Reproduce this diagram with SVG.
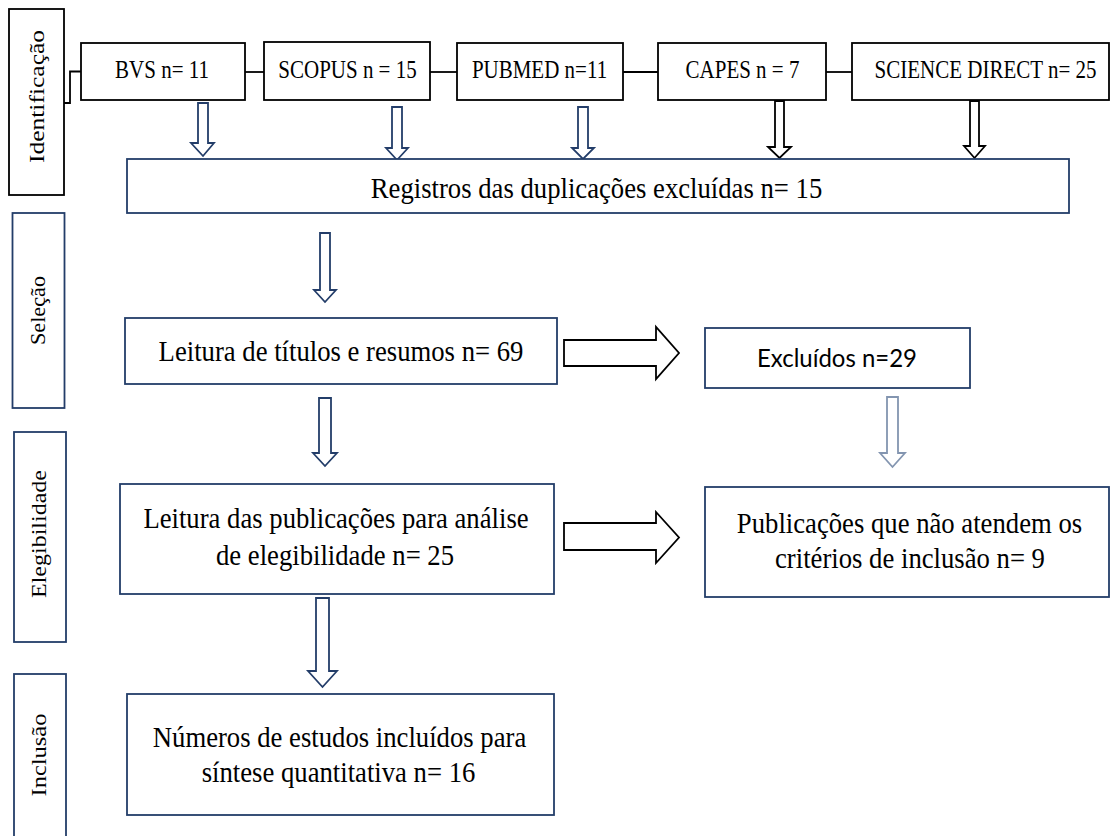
<svg xmlns="http://www.w3.org/2000/svg" width="1111" height="836" viewBox="0 0 1111 836">
<style>
  .bg{fill:#fff}
  .bk{fill:#fff;stroke:#000;stroke-width:1.8}
  .nv{fill:#fff;stroke:#233d69;stroke-width:1.8}
  .ln{fill:none;stroke:#000;stroke-width:1.8}
  .an{fill:#fff;stroke:#233d69;stroke-width:1.8;stroke-linejoin:miter}
  .ab{fill:#fff;stroke:#000;stroke-width:1.8;stroke-linejoin:miter}
  .ag{fill:#fff;stroke:#8395b0;stroke-width:1.8;stroke-linejoin:miter}
  .t{font-family:"Liberation Serif","Times New Roman",serif;fill:#000;text-anchor:middle}
  .ts{font-size:21px}
  .tm{font-size:26.7px}
  .tv{font-size:21px}
  .tc{font-family:Lato,"Open Sans","Liberation Sans",sans-serif;font-size:25px;fill:#000;text-anchor:middle}
</style>
<rect class="bg" x="0" y="0" width="1111" height="836"/>

<g id="connectors">
  <path class="ln" d="M64,103 H70 V71.5 H81"/>
  <path class="ln" d="M245,72 H264"/>
  <path class="ln" d="M430,72 H457"/>
  <path class="ln" d="M623,72 H658"/>
  <path class="ln" d="M826,72 H852"/>
  <polygon class="an" points="198,103 208,103 208,143 214,143 203,156 191,143 198,143"/>
  <polygon class="an" points="392,107 402,107 402,148 408,148 397,160 386,148 392,148"/>
  <polygon class="an" points="578,107 588,107 588,148 594,148 583,159 572,148 578,148"/>
  <polygon class="ab" points="775,101 784,101 784,147 791,147 779.5,158 768,147 775,147"/>
  <polygon class="ab" points="970,101 979,101 979,146 985,146 974.5,158 964,146 970,146"/>
  <polygon class="an" points="320,233 330,233 330,290 336,290 325,302 314,290 320,290"/>
  <polygon class="an" points="319,398 331,398 331,453 337,453 325,466 313,453 319,453"/>
  <polygon class="an" points="316,598 329,598 329,671 337,671 322.5,687 308,671 316,671"/>
  <polygon class="ag" points="887,397 898,397 898,453 905,453 892.5,467 880,453 887,453"/>
  <polygon class="ab" points="564,340 656,340 656,327 679,353 656,379 656,366 564,366"/>
  <polygon class="ab" points="564,523 656,523 656,512 679,537.5 656,563 656,550 564,550"/>
</g>

<g id="stage-identificacao">
  <rect class="bk" x="9" y="9" width="55" height="186"/>
  <text class="t tv" transform="translate(43.5,96.5) rotate(-90)" textLength="133" lengthAdjust="spacingAndGlyphs">Identificação</text>
</g>
<g id="stage-selecao">
  <rect class="nv" x="12.5" y="213" width="52" height="195"/>
  <text class="t tv" transform="translate(44.5,310.5) rotate(-90)" textLength="69" lengthAdjust="spacingAndGlyphs">Seleção</text>
</g>
<g id="stage-elegibilidade">
  <rect class="nv" x="14" y="432" width="52" height="210"/>
  <text class="t tv" transform="translate(46,534) rotate(-90)" textLength="128" lengthAdjust="spacingAndGlyphs">Elegibilidade</text>
</g>
<g id="stage-inclusao">
  <rect class="nv" x="14" y="674" width="52" height="180"/>
  <text class="t tv" transform="translate(46,755) rotate(-90)" textLength="83" lengthAdjust="spacingAndGlyphs">Inclusão</text>
</g>

<g id="bvs">
  <rect class="bk" x="81" y="43" width="164" height="57"/>
  <text class="t ts" transform="translate(162,78) scale(1,1.18)">BVS n= 11</text>
</g>
<g id="scopus">
  <rect class="bk" x="264" y="42" width="166" height="58"/>
  <text class="t ts" transform="translate(347.5,78) scale(1,1.18)">SCOPUS n = 15</text>
</g>
<g id="pubmed">
  <rect class="bk" x="457" y="43" width="166" height="57"/>
  <text class="t ts" transform="translate(539.5,78) scale(1,1.18)">PUBMED n=11</text>
</g>
<g id="capes">
  <rect class="bk" x="658" y="43" width="168" height="57"/>
  <text class="t ts" transform="translate(742.5,78) scale(1,1.18)">CAPES n = 7</text>
</g>
<g id="sciencedirect">
  <rect class="bk" x="852" y="43" width="257" height="57"/>
  <text class="t ts" transform="translate(985.5,78) scale(1,1.18)">SCIENCE DIRECT n= 25</text>
</g>

<g id="registros">
  <rect class="nv" x="127" y="159" width="942" height="54"/>
  <text class="t tm" transform="translate(596.5,198) scale(1,1.12)">Registros das duplicações excluídas n= 15</text>
</g>
<g id="leitura-titulos">
  <rect class="nv" x="125" y="318" width="432" height="66"/>
  <text class="t tm" transform="translate(341,361) scale(1,1.12)">Leitura de títulos e resumos n= 69</text>
</g>
<g id="excluidos">
  <rect class="nv" x="705" y="328" width="265" height="60"/>
  <text class="tc" x="837" y="367" textLength="160" lengthAdjust="spacingAndGlyphs">Excluídos n=29</text>
</g>
<g id="leitura-publicacoes">
  <rect class="nv" x="120" y="484" width="434" height="110"/>
  <text class="t tm" transform="translate(336,528) scale(1,1.12)">Leitura das publicações para análise</text>
  <text class="t tm" transform="translate(335,565) scale(1,1.12)">de elegibilidade n= 25</text>
</g>
<g id="nao-atendem">
  <rect class="nv" x="705" y="487" width="404" height="110"/>
  <text class="t tm" transform="translate(909.5,533) scale(1,1.12)">Publicações que não atendem os</text>
  <text class="t tm" transform="translate(910,568) scale(1,1.12)">critérios de inclusão n= 9</text>
</g>
<g id="incluidos">
  <rect class="nv" x="127" y="694" width="427" height="121"/>
  <text class="t tm" transform="translate(339.5,747) scale(1,1.12)">Números de estudos incluídos para</text>
  <text class="t tm" transform="translate(338.5,782) scale(1,1.12)">síntese quantitativa n= 16</text>
</g>
</svg>
